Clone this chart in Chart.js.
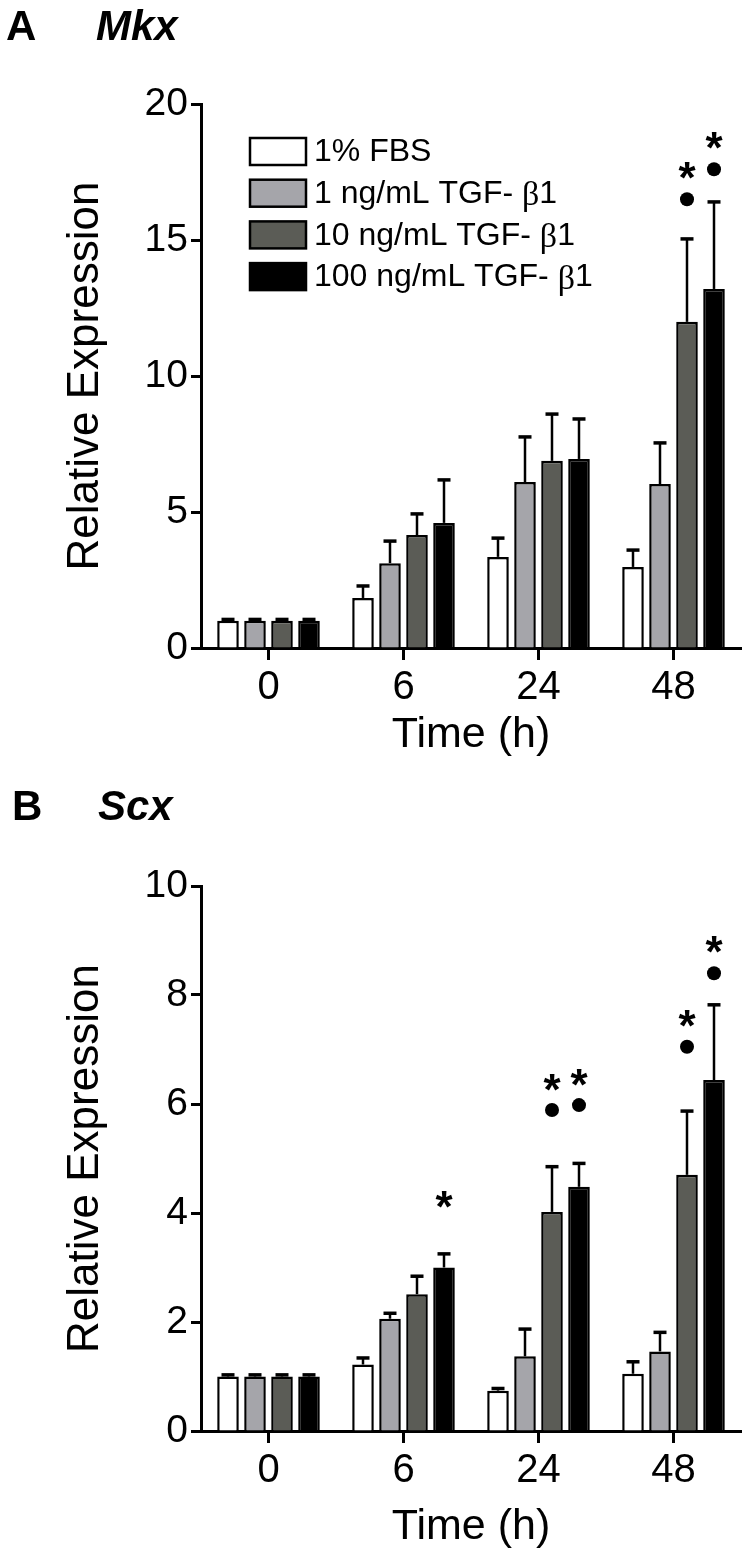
<!DOCTYPE html>
<html><head><meta charset="utf-8">
<script src="https://cdn.jsdelivr.net/npm/chart.js@4.4.1/dist/chart.umd.min.js"></script>
<style>
html,body{margin:0;padding:0;background:#fff;}
#wrap{position:relative;width:756px;height:1552px;overflow:hidden;background:#fff;}
canvas{position:absolute;left:0;}
.lbl{position:absolute;font-family:"Liberation Sans",Arial,sans-serif;font-weight:bold;font-size:42px;line-height:1;color:#000;white-space:nowrap;}
</style></head><body>
<div id="wrap">
<canvas id="cA" width="756" height="760" style="top:0;width:756px;height:760px"></canvas>
<canvas id="cB" width="756" height="792" style="top:760px;width:756px;height:792px"></canvas>
<div class="lbl" style="left:6px;top:5px">A</div>
<div class="lbl" style="left:96px;top:5px;font-style:italic">Mkx</div>
<div class="lbl" style="left:12px;top:785px">B</div>
<div class="lbl" style="left:98px;top:785px;font-style:italic">Scx</div>
</div>
<script>
// ---- data ----
const timeLabels = ['0', '6', '24', '48'];
const seriesNames = ['1% FBS', '1 ng/mL TGF- β1', '10 ng/mL TGF- β1', '100 ng/mL TGF- β1'];
const seriesColors = ['#ffffff', '#a5a5aa', '#5b5c56', '#000000'];

// Mkx (panel A)
const mkxFBS = [1.0, 1.84, 3.35, 2.98];
const mkx1 = [1.0, 3.12, 6.10, 6.03];
const mkx10 = [1.0, 4.15, 6.88, 11.99];
const mkx100 = [1.0, 4.60, 6.95, 13.20];
const mkxFBSErr = [0.05, 0.44, 0.69, 0.62];
const mkx1Err = [0.05, 0.81, 1.66, 1.51];
const mkx10Err = [0.05, 0.78, 1.72, 3.05];
const mkx100Err = [0.05, 1.58, 1.47, 3.20];
const mkxDot10 = [null, null, null, 16.5];
const mkxDot100 = [null, null, null, 17.6];
const mkxStar10 = [null, null, null, 17.65];
const mkxStar100 = [null, null, null, 18.75];
const mkxTicks = [0, 5, 10, 15, 20];

// Scx (panel B)
const scxFBS = [1.0, 1.22, 0.74, 1.05];
const scx1 = [1.0, 2.06, 1.37, 1.46];
const scx10 = [1.0, 2.51, 4.02, 4.70];
const scx100 = [1.0, 3.00, 4.48, 6.44];
const scxFBSErr = [0.03, 0.12, 0.04, 0.22];
const scx1Err = [0.03, 0.10, 0.50, 0.35];
const scx10Err = [0.03, 0.33, 0.83, 1.17];
const scx100Err = [0.03, 0.25, 0.43, 1.38];
const scxDot10 = [null, null, 5.89, 7.05];
const scxDot100 = [null, null, 5.98, 8.40];
const scxStar10 = [null, null, 6.44, 7.62];
const scxStar100 = [null, 4.30, 6.53, 8.97];
const scxTicks = [0, 2, 4, 6, 8, 10];

// ---- style ----
const FAM = "'Liberation Sans', Arial, sans-serif";

const errorBarPlugin = {
  id: 'errBars',
  afterDatasetsDraw(chart, args, opts) {
    const ctx = chart.ctx, ys = chart.scales.y;
    ctx.save();
    ctx.strokeStyle = '#000';
    chart.data.datasets.forEach((ds, i) => {
      const meta = chart.getDatasetMeta(i);
      meta.data.forEach((bar, j) => {
        const e = opts.errors[i][j];
        if (e == null) return;
        const yBar = ys.getPixelForValue(ds.data[j]);
        const yTop = ys.getPixelForValue(ds.data[j] + e);
        ctx.lineWidth = 2.5;
        ctx.beginPath(); ctx.moveTo(bar.x, yBar); ctx.lineTo(bar.x, yTop); ctx.stroke();
        ctx.lineWidth = 3.5;
        ctx.beginPath(); ctx.moveTo(bar.x - 6.5, yTop); ctx.lineTo(bar.x + 6.5, yTop); ctx.stroke();
      });
    });
    ctx.restore();
  }
};

const sigPlugin = {
  id: 'sigMarks',
  afterDatasetsDraw(chart, args, opts) {
    const ctx = chart.ctx, ys = chart.scales.y;
    ctx.save();
    ctx.fillStyle = '#000';
    chart.data.datasets.forEach((ds, i) => {
      const meta = chart.getDatasetMeta(i);
      const dots = opts.dots[i], stars = opts.stars[i];
      meta.data.forEach((bar, j) => {
        if (dots && dots[j] != null) {
          ctx.beginPath(); ctx.arc(bar.x, ys.getPixelForValue(dots[j]), 7, 0, Math.PI * 2); ctx.fill();
        }
        if (stars && stars[j] != null) {
          ctx.font = 'bold 44px ' + FAM;
          ctx.textAlign = 'center'; ctx.textBaseline = 'alphabetic';
          ctx.fillText('*', bar.x, ys.getPixelForValue(stars[j]) + 25);
        }
      });
    });
    ctx.restore();
  }
};

const boxLegendPlugin = {
  id: 'boxLegend',
  afterDraw(chart, args, opts) {
    if (!opts.show) return;
    const ctx = chart.ctx, ca = chart.chartArea;
    const x0 = ca.left + 49, y0 = ca.top + 34, rowH = 41.7, bw = 56, bh = 27;
    ctx.save();
    chart.data.datasets.forEach((ds, i) => {
      const y = y0 + i * rowH;
      ctx.fillStyle = ds.backgroundColor;
      ctx.fillRect(x0, y, bw, bh);
      ctx.lineWidth = 2.5; ctx.strokeStyle = '#000';
      ctx.strokeRect(x0, y, bw, bh);
      ctx.fillStyle = '#000'; ctx.textBaseline = 'middle'; ctx.textAlign = 'left';
      const parts = ds.label.split('β');
      let x = x0 + bw + 8;
      const cy = y + bh / 2 + 1;
      parts.forEach((p, k) => {
        ctx.font = '32px ' + FAM;
        ctx.fillText(p, x, cy);
        x += ctx.measureText(p).width;
        if (k < parts.length - 1) {
          ctx.font = "34px 'Liberation Serif', 'DejaVu Serif', serif";
          ctx.fillText('β', x, cy + 2);
          x += ctx.measureText('β').width;
        }
      });
    });
    ctx.restore();
  }
};

function makeChart(id, values, errs, dots, stars, yTicks, padTop, xHeight, showLegend) {
  const yMax = yTicks[yTicks.length - 1];
  return new Chart(document.getElementById(id), {
    type: 'bar',
    data: {
      labels: timeLabels,
      datasets: values.map((v, i) => ({
        label: seriesNames[i],
        data: v,
        backgroundColor: seriesColors[i],
        borderColor: '#000',
        borderWidth: 2.5,
        categoryPercentage: 0.8,
        barPercentage: 0.8
      }))
    },
    options: {
      responsive: false,
      animation: false,
      devicePixelRatio: 1,
      layout: { padding: { top: padTop, left: 0, right: 15, bottom: 0 } },
      plugins: {
        legend: { display: false },
        tooltip: { enabled: false },
        errBars: { errors: errs },
        sigMarks: { dots: dots, stars: stars },
        boxLegend: { show: showLegend }
      },
      scales: {
        x: {
          afterFit: s => { s.height = xHeight; },
          grid: { display: true, offset: false, drawOnChartArea: false, drawTicks: true, tickLength: 12, tickWidth: 3, tickColor: '#000' },
          border: { display: true, width: 3, color: '#000' },
          ticks: { color: '#000', font: { family: FAM, size: 40 }, padding: 4, maxRotation: 0 },
          title: { display: true, text: 'Time (h)', color: '#000', font: { family: FAM, size: 43, lineHeight: 1 }, padding: { top: 0, bottom: 3 } }
        },
        y: {
          min: 0, max: yMax,
          afterBuildTicks: s => { s.ticks = yTicks.map(v => ({ value: v })); },
          afterFit: s => { s.width = 201; },
          grid: { display: true, drawOnChartArea: false, drawTicks: true, tickLength: 10, tickWidth: 3, tickColor: '#000' },
          border: { display: true, width: 3, color: '#000' },
          ticks: { color: '#000', font: { family: FAM, size: 39 }, padding: 3 },
          title: { display: true, text: 'Relative Expression', color: '#000', font: { family: FAM, size: 44, lineHeight: 1 }, padding: { top: 64, bottom: 0 } }
        }
      }
    },
    plugins: [errorBarPlugin, sigPlugin, boxLegendPlugin]
  });
}

makeChart('cA', [mkxFBS, mkx1, mkx10, mkx100], [mkxFBSErr, mkx1Err, mkx10Err, mkx100Err],
  [null, null, mkxDot10, mkxDot100], [null, null, mkxStar10, mkxStar100], mkxTicks, 104, 112, true);
makeChart('cB', [scxFBS, scx1, scx10, scx100], [scxFBSErr, scx1Err, scx10Err, scx100Err],
  [null, null, scxDot10, scxDot100], [null, null, scxStar10, scxStar100], scxTicks, 126, 121, false);
</script>
</body></html>
